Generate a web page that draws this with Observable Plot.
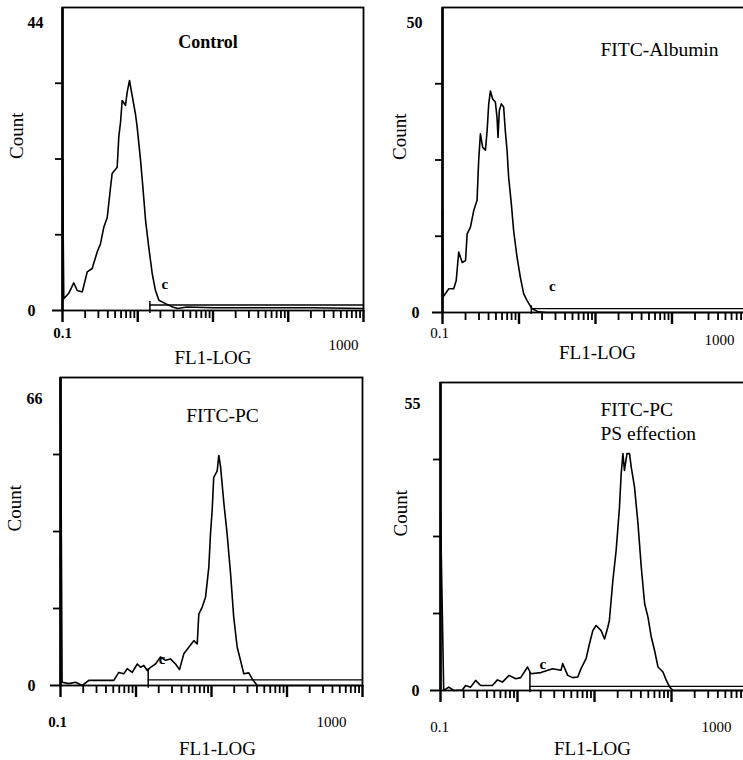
<!DOCTYPE html>
<html><head><meta charset="utf-8">
<script src="https://cdn.jsdelivr.net/npm/d3@7"></script>
<script src="https://cdn.jsdelivr.net/npm/@observablehq/plot@0.6"></script>
<style>
html,body{margin:0;padding:0;background:#fff;overflow:hidden;}
#chart{position:relative;width:743px;height:760px;overflow:hidden;background:#fff;}
#chart > div{position:absolute;}
svg{display:block;}
</style></head><body><div id="chart"></div>
<script>
// ---- texts ----
const titles = ["Control", "FITC-Albumin", "FITC-PC", "FITC-PC\nPS effection"];
const yMax = [44, 50, 66, 55];
const xLabel = "FL1-LOG";
const yLabel = "Count";
const xTickLabels = ["0.1", "1000"];
const gateMark = "c";

// ---- ticks ----
const xDecades = [0.1, 1, 10, 100, 1000];
const xMinor = [0.2,0.3,0.4,0.5,0.6,0.7,0.8,0.9, 2,3,4,5,6,7,8,9, 20,30,40,50,60,70,80,90, 200,300,400,500,600,700,800,900];

// ---- gate (marker) ----
const gateStart = 1.45, gateEnd = 1000;
const gateLevel = [0.8, 0.65, 1.2, 0.75];
const gateLow = [-0.45, -0.3, -0.6, -0.4];
const gateTop = [1.3, 1.1, 3.6, 3.2];

// ---- histograms (FL1 value, count) ----
const p1x = [0.1,0.104,0.121,0.141,0.157,0.183,0.213,0.248,0.289,0.320,0.354,0.393,0.435,0.457,0.533,0.560,0.590,0.621,0.687,0.724,0.777,0.843,0.933,0.983,1.09,1.17,1.27,1.40,1.56,1.72,1.91,2.34,2.9,3.4,4.5,10,50,200,1000];
const p1y = [22,1.7,2.5,4.0,2.9,2.7,5.6,6.1,8.5,9.7,12.1,13.5,17.9,19.9,20.8,25.2,27.3,30.5,29.8,31.7,33.4,31.2,28.5,26.6,21.8,17.9,13.1,9.2,5.3,2.9,1.5,1.0,0.5,0.3,0.5,0.4,0.4,0.4,0.3];

const p2x = [0.1,0.101,0.121,0.140,0.151,0.163,0.181,0.200,0.210,0.232,0.256,0.283,0.297,0.313,0.335,0.364,0.383,0.402,0.423,0.453,0.491,0.516,0.532,0.553,0.587,0.630,0.662,0.698,0.732,0.794,0.851,0.942,1.04,1.15,1.27,1.48,1.80,2.3,10,100,1000];
const p2y = [16.7,2.5,3.9,3.9,5.2,9.9,8.2,8.5,12.9,14.0,16.7,18.4,24.9,29.3,27.1,26.6,29.8,34.2,36.3,35.0,34.5,32.0,28.7,33.1,34.2,33.7,29.8,26.6,22.2,17.8,13.4,9.1,5.8,3.1,2.0,0.6,0.1,0,0,0,0];

const p3x = [0.1,0.105,0.129,0.158,0.194,0.237,0.394,0.508,0.592,0.689,0.764,0.891,1.04,1.15,1.27,1.41,1.56,1.81,2.11,2.46,2.86,3.34,3.77,4.30,5.00,5.83,6.47,6.79,7.53,8.33,9.21,9.70,10.2,10.7,11.3,11.9,12.5,13.2,14.6,16.1,17.9,19.7,21.9,24.2,26.8,31.2,34.6,40.3,100,1000];
const p3y = [66,0.7,0.4,0.7,0,1.1,1.1,1.1,2.8,2.5,3.6,2.8,4.6,3.9,4.3,3.2,3.9,4.6,6.1,5.4,5.7,4.6,3.4,6.8,8.2,9.6,8.9,15.3,16.8,18.9,25.3,32.5,37.5,44.6,45.3,46.0,49.3,46.8,39.0,32.5,23.9,14.6,8.2,5.4,2.5,2.7,1.4,0,0,0];

const p4x = [0.1,0.110,0.128,0.149,0.192,0.212,0.246,0.286,0.332,0.472,0.548,0.637,0.777,0.950,1.10,1.35,1.49,2.01,2.86,3.67,3.86,4.49,5.21,6.06,6.68,7.77,8.59,9.51,10.5,12.2,13.5,14.9,15.6,17.3,19.1,21.1,22.2,23.4,24.5,26.4,28.5,30.0,33.1,36.7,40.5,44.8,49.5,54.7,60.4,66.8,77.6,85.7,94.8,105,300,1000];
const p4y = [32,0,0.6,0,0.1,0.9,0.6,1.8,0.9,0.9,1.9,1.5,2.7,2.1,2.3,4.2,3.0,3.2,3.9,3.6,4.8,2.7,2.3,2.4,3.9,5.7,8.3,10.7,11.6,10.7,9.2,11.3,12.5,19.6,25.0,32.7,38.7,42.3,39.3,42.3,42.3,39.9,36.3,29.8,22.0,15.5,13.1,9.5,7.1,4.2,3.3,1.8,0.6,0,0,0];

const series = [[p1x, p1y], [p2x, p2y], [p3x, p3y], [p4x, p4y]];

// ---- layout (pixels) ----
const layouts = [
  {left:0, top:0, w:372, h:372, ml:62, mr:9, mt:7, mb:62, topDx:-19, topDy:15, zeroDx:-27, x01Dx:0, x01Dy:23, x1000Dx:-20, x1000Dy:35, xlDx:0, xlDy:47, cntDx:-46, titleDx:-5, titleDy:35, cDx:15, boldX:true, titleBold:true},
  {left:372, top:0, w:380, h:372, ml:70, mr:4, mt:7, mb:60, topDx:-20, topDy:15, zeroDx:-23, x01Dx:-3, x01Dy:21, x1000Dx:-29, x1000Dy:28, xlDx:2, xlDy:40, cntDx:-43, titleDx:64, titleDy:42, cDx:21, boldX:false, titleBold:false},
  {left:0, top:365, w:372, h:395, ml:60, mr:10, mt:12, mb:75, topDx:-18, topDy:21, zeroDx:-25, x01Dx:-3, x01Dy:37, x1000Dx:-31, x1000Dy:37, xlDx:6, xlDy:63, cntDx:-46, titleDx:11, titleDy:38, cDx:14, boldX:true, titleBold:false},
  {left:372, top:365, w:380, h:395, ml:68, mr:4, mt:17, mb:70, topDx:-20, topDy:21, zeroDx:-21, x01Dx:-1, x01Dy:37, x1000Dx:-32, x1000Dy:37, xlDx:-2, xlDy:58, cntDx:-40, titleDx:160, titleDy:16, cDx:13, boldX:false, titleBold:false, titleLeft:true}
];

const font = "'Liberation Serif', 'Times New Roman', serif";

function panel(i) {
  const L = layouts[i];
  const ymax = yMax[i];
  const [xs, ys] = series[i];
  const data = xs.map((x, j) => ({x, y: ys[j]}));
  const yMid = [0.25, 0.5, 0.75].map(f => f * ymax);
  const fh = L.h - L.mt - L.mb;            // frame height (px)
  const ppd = (L.w - L.ml - L.mr) / 4;     // px per decade
  const yPx = px => px * ymax / fh;        // px length -> count units
  const xPx = px => 0.1 * Math.pow(10, -px / ppd); // px left of axis -> x value
  const titleOpts = L.titleLeft
    ? {frameAnchor: "top-left", textAnchor: "start", lineAnchor: "top", lineHeight: 1.25, dx: L.titleDx, dy: L.titleDy}
    : {frameAnchor: "top", lineAnchor: "middle", dx: L.titleDx, dy: L.titleDy};
  return Plot.plot({
    width: L.w, height: L.h,
    marginLeft: L.ml, marginRight: L.mr, marginTop: L.mt, marginBottom: L.mb,
    style: {fontFamily: font, fontSize: "16px", color: "#000", background: "#fff", maxWidth: "none", overflow: "visible"},
    x: {type: "log", domain: [0.1, 1000], label: null, axis: null},
    y: {domain: [0, ymax], label: null, axis: null},
    marks: [
      // x-axis ticks (below the baseline)
      Plot.ruleX(xMinor, {x: d => d, y1: 0, y2: -yPx(8), stroke: "#000", strokeWidth: 1.8}),
      Plot.ruleX(xDecades, {x: d => d, y1: 0, y2: -yPx(12), stroke: "#000", strokeWidth: 2.4}),
      // y-axis ticks (left of the axis)
      Plot.ruleY(yMid, {y: d => d, x1: xPx(7), x2: 0.1, stroke: "#000", strokeWidth: 1.8}),
      Plot.ruleY([0], {y: d => d, x1: xPx(10), x2: 0.1, stroke: "#000", strokeWidth: 2}),
      Plot.frame({stroke: "#000", strokeWidth: 1.8}),
      Plot.ruleX([0.1], {stroke: "#000", strokeWidth: 2.6}),
      Plot.ruleY([gateLevel[i]], {x1: gateStart, x2: gateEnd, stroke: "#000", strokeWidth: 1.3}),
      Plot.ruleX([gateStart], {y1: gateLow[i], y2: gateTop[i], stroke: "#000", strokeWidth: 1.5}),
      Plot.line(data, {x: "x", y: "y", stroke: "#000", strokeWidth: 1.6}),
      Plot.text([gateMark], {x: gateStart, y: 0, text: d => d, dx: L.cDx, dy: -26, fontSize: 15, fontWeight: "bold"}),
      Plot.text([ymax], {y: d => d, frameAnchor: "left", lineAnchor: "middle", text: d => String(d), dx: L.topDx, dy: L.topDy, textAnchor: "end", fontSize: 16, fontWeight: "bold"}),
      Plot.text([0], {y: d => d, frameAnchor: "left", lineAnchor: "middle", text: d => String(d), dx: L.zeroDx, textAnchor: "end", fontSize: 16, fontWeight: "bold"}),
      Plot.text([0.1], {x: d => d, frameAnchor: "bottom", lineAnchor: "middle", text: () => xTickLabels[0], dx: L.x01Dx, dy: L.x01Dy, fontSize: 15, fontWeight: L.boldX ? "bold" : "normal"}),
      Plot.text([1000], {x: d => d, frameAnchor: "bottom", lineAnchor: "middle", text: () => xTickLabels[1], dx: L.x1000Dx, dy: L.x1000Dy, fontSize: 15}),
      Plot.text([xLabel], {frameAnchor: "bottom", lineAnchor: "middle", text: d => d, dx: L.xlDx, dy: L.xlDy, fontSize: 19}),
      Plot.text([yLabel], {frameAnchor: "left", lineAnchor: "middle", text: d => d, dx: L.cntDx, rotate: -90, fontSize: 19}),
      Plot.text([titles[i]], {text: d => d, fontSize: L.titleBold ? 18 : 19.5, fontWeight: L.titleBold ? "bold" : "normal", ...titleOpts})
    ]
  });
}

const root = document.getElementById("chart");
layouts.forEach((L, i) => {
  const wrap = document.createElement("div");
  wrap.style.left = L.left + "px";
  wrap.style.top = L.top + "px";
  wrap.style.width = L.w + "px";
  wrap.style.height = L.h + "px";
  wrap.appendChild(panel(i));
  root.appendChild(wrap);
});
</script>
</body></html>
